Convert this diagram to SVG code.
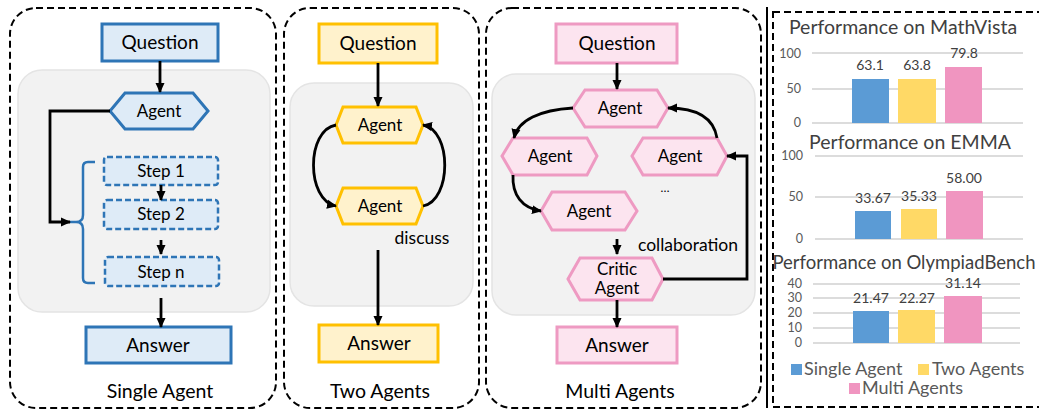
<svg xmlns="http://www.w3.org/2000/svg" width="1039" height="414" viewBox="0 0 1039 414">
<defs>
<marker id="ah" markerWidth="10" markerHeight="10" refX="9" refY="5" orient="auto" markerUnits="userSpaceOnUse">
<path d="M0,0.5 L10,5 L0,9.5 Z" fill="#000"/>
</marker>
<style>
.panel{fill:#fff;stroke:#000;stroke-width:2;stroke-dasharray:7 4}
.gray{fill:#f2f2f2;stroke:#e4e4e4;stroke-width:1.5}
.blue{fill:#deebf7;stroke:#2e75b6;stroke-width:3}
.bstep{fill:#deebf7;stroke:#2e75b6;stroke-width:2.5;stroke-dasharray:6 3}
.yel{fill:#fff2cc;stroke:#ffc000;stroke-width:3}
.pink{fill:#fce4ef;stroke:#ee9ac2;stroke-width:3}
.t{font-family:Lato,"Liberation Sans",sans-serif;fill:#000;text-anchor:middle}
.nl{font-size:19px}
.sl{font-size:17px}
.cap{font-size:19.5px}
.lab{font-size:17.5px}
.conn{fill:none;stroke:#000;stroke-width:2.8}
.ct{font-family:Lato,"Liberation Sans",sans-serif;fill:#404040;font-size:19.5px;text-anchor:middle}
.ax{font-family:Lato,"Liberation Sans",sans-serif;fill:#595959;font-size:12.5px;text-anchor:end}
.val{font-family:Lato,"Liberation Sans",sans-serif;fill:#404040;font-size:14px;text-anchor:middle}
.grid{stroke:#d0d0d0;stroke-width:1.5}
.lg{font-family:Lato,"Liberation Sans",sans-serif;fill:#595959;font-size:18px}
</style>
</defs>

<!-- panels -->
<g id="panel-single">
<rect class="panel" x="10" y="8" width="266" height="400" rx="26"/>
<rect class="gray" x="18" y="70" width="252" height="242" rx="24"/>
<text class="t cap" x="160" y="398">Single Agent</text>
</g>
<g id="panel-two">
<rect class="panel" x="284" y="8" width="195" height="400" rx="26"/>
<rect class="gray" x="290" y="83" width="183" height="223" rx="24"/>
<text class="t cap" x="380" y="398">Two Agents</text>
</g>
<g id="panel-multi">
<rect class="panel" x="486" y="8" width="275" height="400" rx="26"/>
<rect class="gray" x="492" y="74" width="263" height="241" rx="24"/>
<text class="t cap" x="620" y="398">Multi Agents</text>
</g>
<line x1="767" y1="7" x2="767" y2="408" stroke="#000" stroke-width="2"/>

<!-- Single agent nodes -->
<g id="s-question"><rect class="blue" x="102" y="24" width="116" height="37"/><text class="t nl" x="160" y="49">Question</text></g>
<g id="s-agent"><polygon class="blue" points="110,111 125,93 193,93 208,111 193,129 125,129"/><text class="t sl" x="159" y="117">Agent</text></g>
<g id="s-step1"><rect class="bstep" x="104" y="157" width="114" height="28" rx="3"/><text class="t sl" x="161" y="177">Step 1</text></g>
<g id="s-step2"><rect class="bstep" x="104" y="200" width="114" height="29" rx="3"/><text class="t sl" x="161" y="220">Step 2</text></g>
<g id="s-stepn"><rect class="bstep" x="105" y="257" width="114" height="29" rx="3"/><text class="t sl" x="161" y="278">Step n</text></g>
<g id="s-brace"><path d="M95,162 H88 Q83,162 83,167 V215 Q83,222 76,222 H70 M76,222 Q83,222 83,229 V278 Q83,283 88,283 H95" fill="none" stroke="#2e75b6" stroke-width="2.5"/></g>
<g id="s-answer"><rect class="blue" x="86" y="327" width="145" height="36"/><text class="t nl" x="158" y="352">Answer</text></g>

<!-- Two agents nodes -->
<g id="t-question"><rect class="yel" x="319" y="24" width="118" height="39"/><text class="t nl" x="378" y="50">Question</text></g>
<g id="t-agent1"><polygon class="yel" points="336,125 343,107 416,107 423,125 416,143 343,143"/><text class="t sl" x="380" y="131">Agent</text></g>
<g id="t-agent2"><polygon class="yel" points="336,206 343,188 416,188 423,206 416,224 343,224"/><text class="t sl" x="380" y="212">Agent</text></g>
<text class="t lab" x="422" y="244">discuss</text>
<g id="t-answer"><rect class="yel" x="319" y="325" width="119" height="37"/><text class="t nl" x="379" y="350">Answer</text></g>

<!-- Multi agents nodes -->
<g id="m-question"><rect class="pink" x="556" y="24" width="121" height="39"/><text class="t nl" x="617" y="50">Question</text></g>
<g id="m-agent-top"><polygon class="pink" points="573,108 585,90 657,90 668,108 657,127 585,127"/><text class="t sl" x="620" y="114">Agent</text></g>
<g id="m-agent-left"><polygon class="pink" points="502,156 513,138 587,138 597,156 587,175 513,175"/><text class="t sl" x="550" y="162">Agent</text></g>
<g id="m-agent-right"><polygon class="pink" points="632,156 643,138 717,138 727,156 717,175 643,175"/><text class="t sl" x="680" y="162">Agent</text></g>
<g id="m-agent-low"><polygon class="pink" points="541,211 552,192 625,192 637,211 625,230 552,230"/><text class="t sl" x="589" y="217">Agent</text></g>
<g id="m-critic"><polygon class="pink" points="568,279 580,258 652,258 663,279 652,300 580,300"/><text class="t sl" x="617" y="275">Critic</text><text class="t sl" x="617" y="294">Agent</text></g>
<text class="t" x="665" y="192" font-size="12">…</text>
<text class="t lab" x="688" y="251">collaboration</text>
<g id="m-answer"><rect class="pink" x="557" y="327" width="120" height="36"/><text class="t nl" x="617" y="352">Answer</text></g>

<!-- connectors -->
<g id="connectors">
<line class="conn" x1="160" y1="61" x2="160" y2="92" marker-end="url(#ah)"/>
<path class="conn" d="M110,111 H50 V222 H70" marker-end="url(#ah)"/>
<line class="conn" x1="161" y1="185" x2="161" y2="200" marker-end="url(#ah)"/>
<line class="conn" x1="161" y1="240" x2="161" y2="254" marker-end="url(#ah)"/>
<line class="conn" x1="161" y1="298" x2="161" y2="327" marker-end="url(#ah)"/>

<line class="conn" x1="378" y1="63" x2="378" y2="106" marker-end="url(#ah)"/>
<path class="conn" d="M336,125 C306,130 306,200 336,206" marker-end="url(#ah)"/>
<path class="conn" d="M423,206 C452,200 452,130 423,125" marker-end="url(#ah)"/>
<line class="conn" x1="378" y1="250" x2="378" y2="325" marker-end="url(#ah)"/>

<line class="conn" x1="617" y1="63" x2="617" y2="89" marker-end="url(#ah)"/>
<path class="conn" d="M573,108 C540,110 518,120 514,138" marker-end="url(#ah)"/>
<path class="conn" d="M513,175 C512,195 522,208 541,211" marker-end="url(#ah)"/>
<path class="conn" d="M717,138 C714,120 700,108 668,108" marker-end="url(#ah)"/>
<line class="conn" x1="617" y1="239" x2="617" y2="254" marker-end="url(#ah)"/>
<path class="conn" d="M663,279 H747 V156 H727" marker-end="url(#ah)"/>
<line class="conn" x1="617" y1="300" x2="617" y2="327" marker-end="url(#ah)"/>
</g>

<!-- charts -->
<g id="charts">
<rect x="773" y="12" width="290" height="395" fill="none" stroke="#000" stroke-width="2" stroke-dasharray="7 4"/>
<!-- chart 1 -->
<text class="ct" x="903" y="34">Performance on MathVista</text>
<line class="grid" x1="812" y1="53" x2="1023" y2="53"/>
<line class="grid" x1="812" y1="89" x2="1023" y2="89"/>
<line class="grid" x1="812" y1="123" x2="1023" y2="123"/>
<text class="ax" x="801" y="58">100</text>
<text class="ax" x="801" y="93">50</text>
<text class="ax" x="801" y="127">0</text>
<rect x="852" y="79" width="37" height="44" fill="#5b9bd5"/>
<rect x="898" y="79" width="38" height="44" fill="#ffd966"/>
<rect x="945" y="67" width="37" height="56" fill="#f095c0"/>
<text class="val" x="870" y="70">63.1</text>
<text class="val" x="917" y="70">63.8</text>
<text class="val" x="964" y="58">79.8</text>
<!-- chart 2 -->
<text class="ct" x="910" y="149">Performance on EMMA</text>
<line class="grid" x1="815" y1="156" x2="1023" y2="156"/>
<line class="grid" x1="815" y1="197" x2="1023" y2="197"/>
<line class="grid" x1="815" y1="239" x2="1023" y2="239"/>
<text class="ax" x="803" y="160">100</text>
<text class="ax" x="803" y="201">50</text>
<text class="ax" x="803" y="243">0</text>
<rect x="855" y="211" width="36" height="28" fill="#5b9bd5"/>
<rect x="901" y="209" width="36" height="30" fill="#ffd966"/>
<rect x="946" y="191" width="37" height="48" fill="#f095c0"/>
<text class="val" x="873" y="203">33.67</text>
<text class="val" x="919" y="201">35.33</text>
<text class="val" x="964" y="183">58.00</text>
<!-- chart 3 -->
<text class="ct" x="904" y="269" style="font-size:18.5px">Performance on OlympiadBench</text>
<line class="grid" x1="813" y1="284" x2="1020" y2="284"/>
<line class="grid" x1="813" y1="298" x2="1020" y2="298"/>
<line class="grid" x1="813" y1="313" x2="1020" y2="313"/>
<line class="grid" x1="813" y1="328" x2="1020" y2="328"/>
<line class="grid" x1="813" y1="343" x2="1020" y2="343"/>
<text class="ax" x="802" y="288">40</text>
<text class="ax" x="802" y="302">30</text>
<text class="ax" x="802" y="317">20</text>
<text class="ax" x="802" y="332">10</text>
<text class="ax" x="802" y="347">0</text>
<rect x="853" y="311" width="36" height="32" fill="#5b9bd5"/>
<rect x="898" y="310" width="37" height="33" fill="#ffd966"/>
<rect x="944" y="296" width="38" height="47" fill="#f095c0"/>
<text class="val" x="871" y="303">21.47</text>
<text class="val" x="917" y="303">22.27</text>
<text class="val" x="963" y="288">31.14</text>
<!-- legend -->
<rect x="791" y="364" width="11" height="11" fill="#5b9bd5"/>
<text class="lg" x="804" y="375">Single Agent</text>
<rect x="918" y="364" width="11" height="11" fill="#ffd966"/>
<text class="lg" x="932" y="375">Two Agents</text>
<rect x="849" y="383" width="11" height="11" fill="#f095c0"/>
<text class="lg" x="862" y="394">Multi Agents</text>
</g>
</svg>
